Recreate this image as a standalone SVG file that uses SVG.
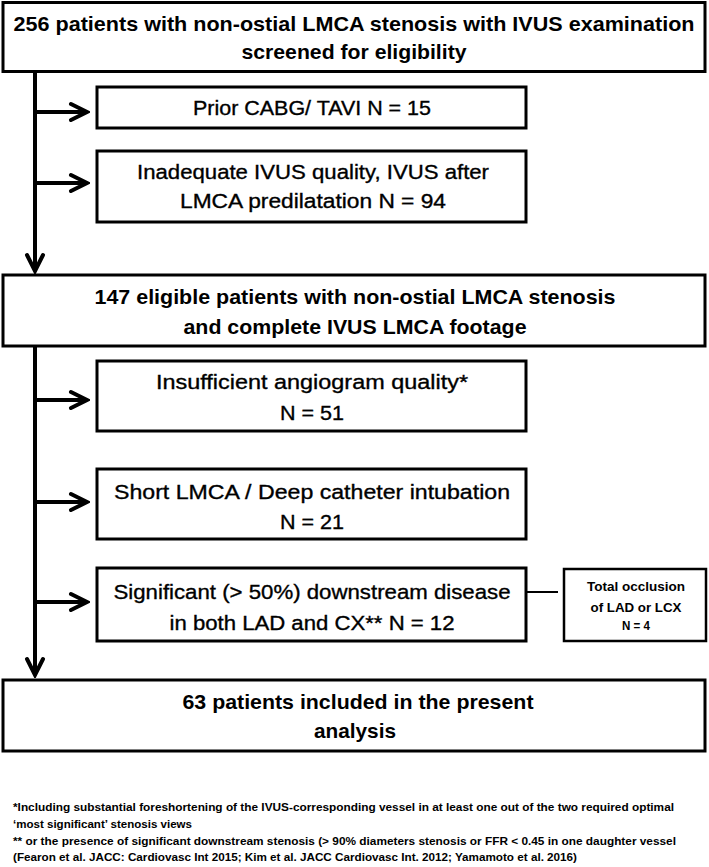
<svg xmlns="http://www.w3.org/2000/svg" width="709" height="867" viewBox="0 0 709 867">
<style>
.box{fill:#fff;stroke:#000;stroke-width:3}
.sbox{fill:#fff;stroke:#000;stroke-width:2.5}
.t{font-family:"Liberation Sans",Arial,sans-serif;font-size:20.5px;fill:#000;text-anchor:middle;stroke:#000;stroke-width:0.35}
.b{font-weight:bold;stroke:none}
.s{font-family:"Liberation Sans",Arial,sans-serif;font-size:13px;font-weight:bold;fill:#000;text-anchor:middle}
.f{font-family:"Liberation Sans",Arial,sans-serif;font-size:11px;font-weight:bold;fill:#000}
.ln{stroke:#000;stroke-width:4;fill:none}
</style>
<defs>
<marker id="chev" markerUnits="userSpaceOnUse" viewBox="0 0 22 22" markerWidth="22" markerHeight="22" refX="19" refY="11" orient="auto">
<path d="M3,3 L19,11 L3,19" fill="none" stroke="#000" stroke-width="4" stroke-linejoin="miter" stroke-linecap="round"/>
</marker>
</defs>
<rect width="709" height="867" fill="#fff"/>
<g id="connectors">
<line class="ln" x1="35" y1="71" x2="35" y2="271" marker-end="url(#chev)"/>
<line class="ln" x1="35" y1="346" x2="35" y2="675" marker-end="url(#chev)"/>
<line class="ln" x1="35" y1="112" x2="87" y2="112" marker-end="url(#chev)"/>
<line class="ln" x1="35" y1="183" x2="87" y2="183" marker-end="url(#chev)"/>
<line class="ln" x1="35" y1="400" x2="87" y2="400" marker-end="url(#chev)"/>
<line class="ln" x1="35" y1="502" x2="87" y2="502" marker-end="url(#chev)"/>
<line class="ln" x1="35" y1="602" x2="87" y2="602" marker-end="url(#chev)"/>
<line x1="526" y1="592" x2="558" y2="592" stroke="#000" stroke-width="2"/>
</g>
<g id="n-screened">
<rect class="box" x="3" y="2.5" width="702" height="69"/>
<text class="t b" x="354" y="31" textLength="681" lengthAdjust="spacingAndGlyphs">256 patients with non-ostial LMCA stenosis with IVUS examination</text>
<text class="t b" x="354" y="59" textLength="225" lengthAdjust="spacingAndGlyphs">screened for eligibility</text>
</g>
<g id="n-prior">
<rect class="box" x="97" y="87" width="429" height="41"/>
<text class="t" x="312" y="115" textLength="238" lengthAdjust="spacingAndGlyphs">Prior CABG/ TAVI N = 15</text>
</g>
<g id="n-inadequate">
<rect class="box" x="97" y="151" width="429" height="71"/>
<text class="t" x="313" y="179" textLength="352" lengthAdjust="spacingAndGlyphs">Inadequate IVUS quality, IVUS after</text>
<text class="t" x="313" y="208" textLength="266" lengthAdjust="spacingAndGlyphs">LMCA predilatation  N = 94</text>
</g>
<g id="n-eligible">
<rect class="box" x="3" y="275" width="702" height="71"/>
<text class="t b" x="355" y="304" textLength="521" lengthAdjust="spacingAndGlyphs">147 eligible patients with non-ostial LMCA stenosis</text>
<text class="t b" x="355" y="334" textLength="343" lengthAdjust="spacingAndGlyphs">and complete IVUS LMCA footage</text>
</g>
<g id="n-insufficient">
<rect class="box" x="97" y="361" width="429" height="70"/>
<text class="t" x="312" y="389" textLength="312" lengthAdjust="spacingAndGlyphs">Insufficient angiogram quality*</text>
<text class="t" x="312" y="420" textLength="64" lengthAdjust="spacingAndGlyphs">N = 51</text>
</g>
<g id="n-short">
<rect class="box" x="97" y="469" width="429" height="70"/>
<text class="t" x="312" y="499" textLength="396" lengthAdjust="spacingAndGlyphs">Short LMCA / Deep catheter intubation</text>
<text class="t" x="312" y="529" textLength="64" lengthAdjust="spacingAndGlyphs">N = 21</text>
</g>
<g id="n-significant">
<rect class="box" x="97" y="568" width="429" height="73"/>
<text class="t" x="312" y="599" textLength="397" lengthAdjust="spacingAndGlyphs">Significant (&gt; 50%) downstream disease</text>
<text class="t" x="312" y="630" textLength="285" lengthAdjust="spacingAndGlyphs">in both LAD and CX** N = 12</text>
</g>
<g id="n-occlusion">
<rect class="sbox" x="564" y="569" width="142" height="72"/>
<text class="s" x="636" y="591" textLength="98" lengthAdjust="spacingAndGlyphs">Total occlusion</text>
<text class="s" x="636" y="612" textLength="91" lengthAdjust="spacingAndGlyphs">of LAD or LCX</text>
<text class="s" x="636" y="630" textLength="28" lengthAdjust="spacingAndGlyphs">N = 4</text>
</g>
<g id="n-included">
<rect class="box" x="3" y="680" width="702" height="71"/>
<text class="t b" x="358" y="709" textLength="351" lengthAdjust="spacingAndGlyphs">63 patients included in the present</text>
<text class="t b" x="355" y="738" textLength="82" lengthAdjust="spacingAndGlyphs">analysis</text>
</g>
<g id="footnotes">
<text class="f" x="13" y="811" textLength="661" lengthAdjust="spacingAndGlyphs">*Including substantial foreshortening of the IVUS-corresponding vessel in at least one out of the two required optimal</text>
<text class="f" x="13" y="828" textLength="179" lengthAdjust="spacingAndGlyphs">‘most significant’ stenosis views</text>
<text class="f" x="13" y="845" textLength="663" lengthAdjust="spacingAndGlyphs">** or the presence of significant downstream stenosis (&gt; 90% diameters stenosis or FFR &lt; 0.45 in one daughter vessel</text>
<text class="f" x="13" y="861" textLength="564" lengthAdjust="spacingAndGlyphs">(Fearon et al. JACC: Cardiovasc Int 2015; Kim et al. JACC Cardiovasc Int. 2012; Yamamoto et al. 2016)</text>
</g>
</svg>
